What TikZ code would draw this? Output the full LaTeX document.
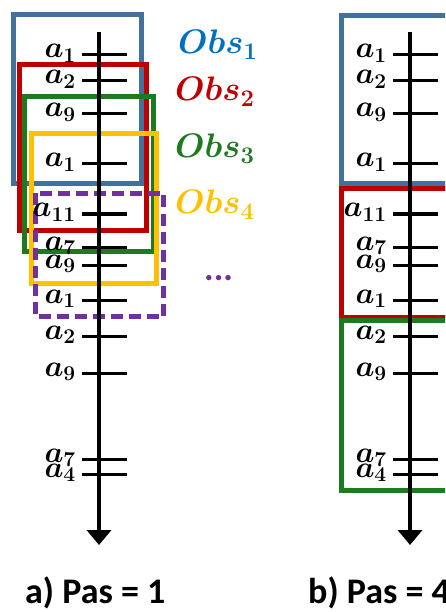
\RequirePackage{fix-cm}
\documentclass[tikz,border=0pt]{standalone}
\usepackage{fontspec}
\usepackage{tikz}
\usetikzlibrary{arrows.meta}
\newfontfamily\capfont{Carlito}
\definecolor{boxblue}{HTML}{41719C}
\definecolor{obsblue}{HTML}{0070C0}
\definecolor{obsred}{HTML}{C00000}
\definecolor{obsgreen}{HTML}{1E7A1E}
\definecolor{obsyellow}{HTML}{FFC000}
\definecolor{obspurple}{HTML}{7030A0}
\tikzset{
  axe/.style={line width=4pt, -{Triangle[length=15pt, width=24pt]}},
  tickmark/.style={line width=3pt},
  obsbox/.style={line width=5pt},
  lbl/.style={anchor=base east, inner sep=0pt, font=\fontsize{30}{34}\selectfont\boldmath},
  obslbl/.style={anchor=base west, inner sep=0pt, font=\fontsize{34}{38}\selectfont\boldmath},
  legende/.style={anchor=base west, inner sep=0pt, font=\capfont\bfseries\fontsize{36}{40}\selectfont},
}

\begin{document}
\begin{tikzpicture}[x=1pt, y=-1pt]
    \useasboundingbox (0,0) rectangle (445,612);
    \clip (0,0) rectangle (445,612);

    %% --- a) sliding windows, step 1 ---
    \draw[obsbox, boxblue] (13.5,14.5) rectangle (141,183.5);
    \draw[obsbox, obsred] (19.5,64.5) rectangle (146.5,230.5);
    \draw[obsbox, obsgreen] (24.5,96.5) rectangle (153.5,251.5);
    \draw[obsbox, obsyellow] (31.5,133.5) rectangle (156.5,283.5);
    \draw[obsbox, obspurple, dash pattern=on 12pt off 6pt] (35.5,193.5) rectangle (163.5,316.5);

    \node[obslbl, text=obsblue] (obs1) at (178,54) {$Obs_{1}$};
    \node[obslbl, text=obsred] (obs2) at (175,101) {$Obs_{2}$};
    \node[obslbl, text=obsgreen] (obs3) at (175,158) {$Obs_{3}$};
    \node[obslbl, text=obsyellow] (obs4) at (175,214) {$Obs_{4}$};
    \node[legende, text=obspurple] (dots) at (204,280) {...};

    %% --- b) disjoint windows, step 4 ---
    \draw[obsbox, boxblue] (341.5,15.5) rectangle (470,184);
    \draw[obsbox, obsred] (341.5,188.5) rectangle (470,317);
    \draw[obsbox, obsgreen] (341.5,320) rectangle (470,490);

    %% --- time axes with actions ---
    \foreach \ax/\p in {99/a, 410/b} {
      \coordinate (top\p) at (\ax,32);
      \coordinate (bot\p) at (\ax,545);
      \draw[axe] (top\p) -- (bot\p);
      \foreach \y/\k [count=\n] in {55/1, 81/2, 114/9, 164/1, 214/11, 247/7, 265/9, 300/1, 336/2, 373/9, 459/7, 474/4} {
        \draw[tickmark] (\ax-17,\y) -- (\ax+28,\y);
        \node[lbl] (lab\p\n) at (\ax-23,\y+3) {$a_{\k}$};
      }
    }

    \node[legende] (capa) at (25,603) {a) Pas = 1};
    \node[legende] (capb) at (308,603) {b) Pas = 4};
\end{tikzpicture}
\end{document}
